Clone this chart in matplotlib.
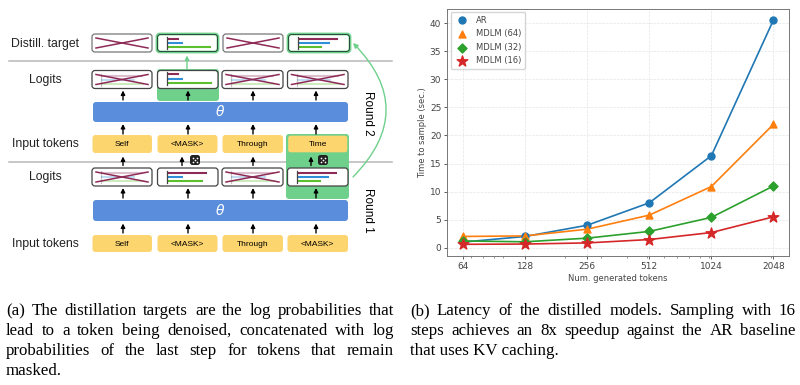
import matplotlib
matplotlib.use('Agg')
import matplotlib.pyplot as plt
from matplotlib.patches import FancyBboxPatch, FancyArrowPatch
from matplotlib.ticker import FixedLocator, FixedFormatter, NullFormatter

# right panel data
num_tokens = [64, 128, 256, 512, 1024, 2048]
ar_time = [1.0, 2.0, 4.0, 8.0, 16.4, 40.6]
mdlm64_time = [2.0, 2.1, 3.3, 5.8, 10.9, 22.0]
mdlm32_time = [1.2, 1.05, 1.7, 2.9, 5.4, 11.0]
mdlm16_time = [0.6, 0.65, 0.85, 1.45, 2.7, 5.5]
y_ticks = [0, 5, 10, 15, 20, 25, 30, 35, 40]
minor_x = [70, 80, 90, 100, 200, 300, 400, 500, 600, 700, 800, 900, 1000, 2000]

# left panel text
row_labels = ['Distill. target', 'Logits', 'Input tokens', 'Logits', 'Input tokens']
top_tokens = ['Self', '<MASK>', 'Through', 'Time']
bottom_tokens = ['Self', '<MASK>', 'Through', '<MASK>']

caption_a = ['(a) The distillation targets are the log probabilities that',
             'lead to a token being denoised, concatenated with log',
             'probabilities of the last step for tokens that remain',
             'masked.']
caption_b = ['(b) Latency of the distilled models. Sampling with 16',
             'steps achieves an 8x speedup against the AR baseline',
             'that uses KV caching.']

BLUE = '#5a8edc'
GREEN = '#6fd08c'
YELLOW = '#fdd56e'
PURPLE = '#8e2a56'
BAR_BLUE = '#2f8fd8'
BAR_GREEN = '#5cc02e'
LINE_GREY = '#b8b8b8'
CAPTION_SIZE = 12.2

fig = plt.figure(figsize=(8, 3.85), dpi=100)

# chart on the right
ax = fig.add_axes([447.5 / 800, 1 - 255.7 / 385, 341.5 / 800, 246.7 / 385])
series = [(ar_time, 'AR', 'o', 5, 'tab:blue'),
          (mdlm64_time, 'MDLM (64)', '^', 5, 'tab:orange'),
          (mdlm32_time, 'MDLM (32)', 'D', 4.6, 'tab:green'),
          (mdlm16_time, 'MDLM (16)', '*', 8, 'tab:red')]
for values, name, marker, size, color in series:
    ax.plot(num_tokens, values, color=color, linewidth=1.2, zorder=3)
    ax.scatter(num_tokens, values, marker=marker, s=size ** 2, color=color, label=name, zorder=4)
ax.set_xscale('log', base=2)
ax.xaxis.set_major_locator(FixedLocator(num_tokens))
ax.xaxis.set_major_formatter(FixedFormatter([str(n) for n in num_tokens]))
ax.xaxis.set_minor_locator(FixedLocator(minor_x))
ax.xaxis.set_minor_formatter(NullFormatter())
ax.set_yticks(y_ticks)
ax.set_ylim(-1.43, 42.55)
ax.tick_params(labelsize=6.5, length=2.5, width=0.6, pad=2, colors='#444444')
ax.tick_params(which='minor', length=1.5, width=0.4, colors='#444444')
ax.grid(True, linestyle='--', linewidth=0.5, color='#e4e4e4')
ax.set_axisbelow(True)
ax.set_xlabel('Num. generated tokens', fontsize=6, color='#444444', labelpad=2)
ax.set_ylabel('Time to sample (sec.)', fontsize=6, color='#444444', labelpad=2)
for spine in ax.spines.values():
    spine.set_color('#777777')
    spine.set_linewidth(0.7)
leg = ax.legend(loc='upper left', fontsize=6, borderaxespad=0.4, labelspacing=0.55, handletextpad=0.6)
for text in leg.get_texts():
    text.set_color('#444444')

# overlay in pixel coordinates for the schematic and captions
ov = fig.add_axes([0, 0, 1, 1])
ov.set_xlim(0, 800)
ov.set_ylim(385, 0)
ov.axis('off')
ov.patch.set_alpha(0)


def round_box(x0, x1, y0, y1, face, edge='none', lw=0.0, rounding=3, z=2, alpha=1):
    ov.add_patch(FancyBboxPatch((x0, y0), x1 - x0, y1 - y0, boxstyle='round,pad=0,rounding_size=%g' % rounding,
                                facecolor=face, edgecolor=edge, linewidth=lw, zorder=z, alpha=alpha))


def arrow(x, y0, y1, color='black', lw=1.0):
    ov.add_patch(FancyArrowPatch((x, y0), (x, y1), arrowstyle='-|>', mutation_scale=6, color=color,
                                 linewidth=lw, shrinkA=0, shrinkB=0, zorder=5))


def bars(x0, ys, ends, faded=False):
    alpha = 0.3 if faded else 1
    for y, end, color in zip(ys, ends, [PURPLE, BAR_BLUE, BAR_GREEN]):
        ov.plot([x0, end], [y, y], color=color, linewidth=1.5, alpha=alpha, solid_capstyle='butt', zorder=4)
    ov.plot([x0, x0], [ys[0] - 2, ys[2] + 2], color='#444444', linewidth=0.9, alpha=alpha, zorder=4)


def crossed(x0, x1, y0, y1, faded_bars=True):
    if faded_bars:
        bars(x0 + 9, [y0 + 5, y0 + 9, y0 + 13], [x1 - 9, x1 - 17, x1 - 8], faded=True)
    ov.plot([x0 + 4, x1 - 4], [y0 + 4, y1 - 4], color=PURPLE, linewidth=1.1, zorder=5)
    ov.plot([x0 + 4, x1 - 4], [y1 - 4, y0 + 4], color=PURPLE, linewidth=1.1, zorder=5)


def dice(x, y):
    round_box(x - 5, x + 5, y - 5, y + 5, '#222222', rounding=2.5, z=5)
    ov.scatter([x - 2, x + 2, x, x - 2, x + 2], [y - 2, y - 2, y, y + 2, y + 2], s=1.5, color='white',
               linewidths=0, zorder=6)


# separators
ov.plot([9, 392], [61, 61], color=LINE_GREY, linewidth=1.1, zorder=1)
ov.plot([9, 392], [162, 162], color=LINE_GREY, linewidth=1.1, zorder=1)

# green highlights behind the picked tokens
round_box(157, 219, 69, 101, GREEN, z=1)
round_box(286, 349, 134, 199, GREEN, z=1)

# theta blocks
for y0, y1 in [(102, 122), (200, 221)]:
    round_box(93, 348, y0, y1, BLUE)
    ov.text(220, (y0 + y1) / 2, r'$\theta$', color='white', fontsize=10, ha='center', va='center', zorder=3)

# token rows
token_cols = [(92.5, 152), (157.5, 217.5), (222.5, 283), (287.5, 348)]
for (x0, x1), tok in zip(token_cols, top_tokens):
    if tok == 'Time':
        round_box(x0, x1, 135, 153, YELLOW, edge=GREEN, lw=1)
    else:
        round_box(x0, x1, 135, 153, YELLOW)
    ov.text((x0 + x1) / 2, 144.5, tok, fontsize=6, family='Liberation Sans', ha='center', va='center', zorder=3)
for (x0, x1), tok in zip(token_cols, bottom_tokens):
    round_box(x0, x1, 235, 252, YELLOW)
    ov.text((x0 + x1) / 2, 244, tok, fontsize=6, family='Liberation Sans', ha='center', va='center', zorder=3)

# distill target row
dist_cols = [(92, 152), (157, 218), (223, 283), (288, 350)]
for i, (x0, x1) in enumerate(dist_cols):
    if i in (0, 2):
        round_box(x0, x1, 34, 52, 'white', edge='#777777', lw=0.9)
        crossed(x0, x1, 34, 52, faded_bars=False)
    else:
        round_box(x0, x1, 34, 52, 'white', edge=GREEN, lw=2.0, z=2)
        round_box(x0 + 0.5, x1 - 0.5, 34.5, 51.5, 'none', edge='#2b4a3a', lw=0.7, z=3)
bars(167, [39, 43, 47], [179, 183, 211])
bars(298, [39, 43, 47], [338, 330, 322])

# logits rows
logit_cols = [(92, 152), (157.5, 218), (222, 283), (287.5, 348)]
for i, (x0, x1) in enumerate(logit_cols):
    round_box(x0, x1, 70.5, 88.5, 'white', edge='#444444', lw=0.9)
    round_box(x0, x1, 168, 186, 'white', edge='#444444', lw=0.9)
    if i != 1:
        crossed(x0, x1, 70.5, 88.5)
    if i in (0, 2):
        crossed(x0, x1, 168, 186)
bars(167, [74, 79, 83], [179, 183, 212])
bars(167, [173, 177, 181], [207, 183, 203])
bars(297, [173, 177, 181], [337, 329, 321])

# black arrows
for x in [123, 188, 253, 316]:
    arrow(x, 100, 90.5)
    arrow(x, 134, 124)
    arrow(x, 198, 188)
    arrow(x, 233, 223.5)
for x in [123, 182, 253, 311]:
    arrow(x, 165.5, 156.5)
dice(195, 160)
dice(323, 160)

# green arrows
arrow(187, 69, 55.5, color=GREEN, lw=1.0)
ov.add_patch(FancyArrowPatch((353, 177), (353, 43), connectionstyle='arc3,rad=0.49', arrowstyle='-|>',
                             mutation_scale=7, color=GREEN, linewidth=1.0, shrinkA=0, shrinkB=0, zorder=5))

# row labels
for label, yc in zip(row_labels, [44, 80, 144, 177, 244]):
    ov.text(45, yc, label, fontsize=8.8, family='Liberation Sans', color='#222222', ha='center', va='center')
ov.text(368, 113, 'Round 2', fontsize=8.5, family='Liberation Sans', rotation=270, ha='center', va='center')
ov.text(368, 210, 'Round 1', fontsize=8.5, family='Liberation Sans', rotation=270, ha='center', va='center')


# captions, justified by hand so lines run to the column edge
def caption(lines, x0, x1, y_list):
    renderer = fig.canvas.get_renderer()
    for n, (line, y) in enumerate(zip(lines, y_list)):
        if n == len(lines) - 1:
            ov.text(x0, y, line, fontsize=CAPTION_SIZE, family='Liberation Serif', ha='left', va='center')
            continue
        words = line.split(' ')
        items = [ov.text(x0, y, w, fontsize=CAPTION_SIZE, family='Liberation Serif', ha='left', va='center')
                 for w in words]
        widths = [t.get_window_extent(renderer).width for t in items]
        gap = (x1 - x0 - sum(widths)) / (len(words) - 1)
        x = x0
        for t, w in zip(items, widths):
            t.set_x(x)
            x += w + gap


caption(caption_a, 6, 394, [311, 331, 351, 371])
caption(caption_b, 410, 796, [311, 331, 351])

fig.savefig('out.png', dpi=100)
